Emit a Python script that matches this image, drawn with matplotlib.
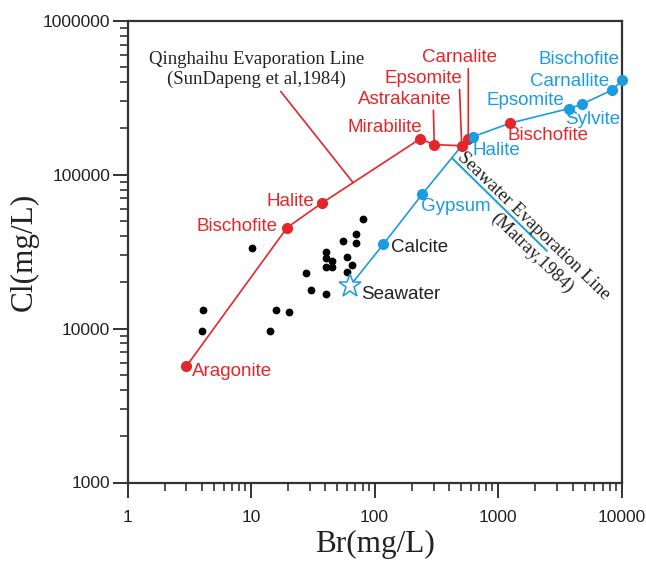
import numpy as np
import matplotlib
matplotlib.use("Agg")
import matplotlib.pyplot as plt

# ---------------- data ----------------
# Qinghaihu evaporation line (red)
red_names = ["Aragonite", "Bischofite", "Halite", "Mirabilite", "Astrakanite", "Epsomite", "Carnalite"]
red_br = [3.0, 19.6, 37.3, 233, 304, 507, 573]
red_cl = [5700, 45300, 65200, 170600, 156700, 154000, 170600]
# red Bischofite lying on the seawater line
red_bis_br = [1247]
red_bis_cl = [215900]

# Seawater evaporation line (blue)
sw_br = [63.2]          # seawater (star)
sw_cl = [18900]
blue_low_names = ["Calcite", "Gypsum"]
blue_low_br = [117.6, 243]
blue_low_cl = [35300, 74600]
blue_high_names = ["Halite", "Epsomite", "Sylvite", "Carnallite", "Bischofite"]
blue_high_br = [629, 3743, 4745, 8396, 10110]
blue_high_cl = [176600, 268700, 286500, 354800, 412000]

# samples (black dots)
samp_br = [80.1, 70.3, 55.8, 70.7, 10.1, 40.2, 40.2, 45.5, 60.1, 40.2, 45.2,
           66.0, 59.4, 27.7, 30.5, 40.2, 4.08, 16.0, 20.3, 4.03, 14.2]
samp_cl = [51800, 41200, 37100, 35800, 33200, 31600, 28900, 27600, 29100, 25200, 25200,
           25900, 23200, 23000, 17800, 16800, 13200, 13300, 12900, 9600, 9640]

x_ticks = [1, 10, 100, 1000, 10000]
y_ticks = [1000, 10000, 100000, 1000000]

# ---------------- style ----------------
RED = "#E3262B"
BLUE = "#1B9BE0"
AX = "#333333"
SANS = "Liberation Sans"
SERIF = "Liberation Serif"
PX = 0.72  # points per pixel at dpi 100

fig = plt.figure(figsize=(6.46, 5.62), dpi=100)
ax = fig.add_axes([127.5 / 646, 1 - 482.5 / 562, (621.7 - 127.5) / 646, (482.5 - 20.7) / 562])
ax.set_xscale("log")
ax.set_yscale("log")
ax.set_xlim(1, 10000)
ax.set_ylim(1000, 1000000)

# lines
blue_path_br = sw_br + blue_low_br + [red_br[5]] + [blue_high_br[0]] + red_bis_br + blue_high_br[1:]
blue_path_cl = sw_cl + blue_low_cl + [red_cl[5]] + [blue_high_cl[0]] + red_bis_cl + blue_high_cl[1:]
ax.plot(blue_path_br, blue_path_cl, color=BLUE, lw=1.2, zorder=2, clip_on=False)
ax.plot(red_br, red_cl, color=RED, lw=1.2, zorder=3)

# markers
ax.plot(samp_br, samp_cl, "o", color="black", ms=4.6, zorder=4)
ax.plot(red_br, red_cl, "o", color=RED, ms=7, zorder=5)
ax.plot(red_bis_br, red_bis_cl, "o", color=RED, ms=7, zorder=5)
ax.plot(blue_low_br, blue_low_cl, "o", color=BLUE, ms=7, zorder=6)
ax.plot(blue_high_br, blue_high_cl, "o", color=BLUE, ms=7, zorder=6, clip_on=False)
ax.plot(sw_br, sw_cl, "*", mfc="white", mec=BLUE, mew=1.1, ms=17, zorder=6)

FS = 13.5

def lab(text, x, y, dx, dy, color, ha="left", va="center", relpos=None, lc=None):
    kw = {}
    if relpos is not None:
        kw["arrowprops"] = dict(arrowstyle="-", color=lc or color, lw=1.2,
                                shrinkA=0, shrinkB=0, relpos=relpos)
    ax.annotate(text, xy=(x, y), xytext=(dx * PX, dy * PX), textcoords="offset points",
                ha=ha, va=va, color=color, fontsize=FS, family=SANS, zorder=7,
                annotation_clip=False, **kw)

# red labels
lab("Aragonite", red_br[0], red_cl[0], 6, -5, RED)
lab("Bischofite", red_br[1], red_cl[1], -10, 1.5, RED, ha="right")
lab("Halite", red_br[2], red_cl[2], -7, 1.5, RED, ha="right")
lab("Mirabilite", red_br[3], red_cl[3], 2, 11, RED, ha="right")
lab("Astrakanite", red_br[4], red_cl[4], -29, 37, RED, ha="center", va="bottom", relpos=(0.8, 0))
lab("Epsomite", red_br[5], red_cl[5], -38, 59, RED, ha="center", va="bottom", relpos=(0.96, 0))
lab("Carnalite", red_br[6], red_cl[6], -9, 73, RED, ha="center", va="bottom", relpos=(0.62, 0))
lab("Bischofite", red_bis_br[0], red_bis_cl[0], -2, -12, RED)

# blue labels
lab("Calcite", blue_low_br[0], blue_low_cl[0], 7.5, -3.5, "#222222")
lab("Gypsum", blue_low_br[1], blue_low_cl[1], -1.5, -12.5, BLUE)
lab("Halite", blue_high_br[0], blue_high_cl[0], -0.5, -13.5, BLUE)
lab("Epsomite", blue_high_br[1], blue_high_cl[1], -5, 8, BLUE, ha="right")
lab("Sylvite", blue_high_br[2], blue_high_cl[2], -17, -15, BLUE)
lab("Carnallite", blue_high_br[3], blue_high_cl[3], -3.5, 8.5, BLUE, ha="right")
lab("Bischofite", blue_high_br[4], blue_high_cl[4], -2.5, 20.5, BLUE, ha="right")
lab("Seawater", sw_br[0], sw_cl[0], 11, -8.5, "#222222")

# Qinghaihu evaporation line caption with leader
t = 0.32
q_x = 10 ** (np.log10(red_br[2]) + t * (np.log10(red_br[3]) - np.log10(red_br[2])))
q_y = 10 ** (np.log10(red_cl[2]) + t * (np.log10(red_cl[3]) - np.log10(red_cl[2])))
ax.annotate("Qinghaihu Evaporation Line\n(SunDapeng et al,1984)", xy=(q_x, q_y),
            xytext=(-97 * PX, 95 * PX), textcoords="offset points",
            ha="center", va="bottom", multialignment="center", fontsize=13.5, family=SERIF,
            color="#222222", linespacing=1.2,
            arrowprops=dict(arrowstyle="-", color=RED, lw=1.2, shrinkA=1, shrinkB=0, relpos=(0.6, 0)))

# Seawater evaporation line caption with leader
t2 = 0.75
s_x = 10 ** (np.log10(blue_low_br[1]) + t2 * (np.log10(red_br[5]) - np.log10(blue_low_br[1])))
s_y = 10 ** (np.log10(blue_low_cl[1]) + t2 * (np.log10(red_cl[5]) - np.log10(blue_low_cl[1])))
ax.annotate("", xy=(s_x, s_y), xytext=(95 * PX, -93 * PX), textcoords="offset points",
            arrowprops=dict(arrowstyle="-", color=BLUE, lw=1.4, shrinkA=0, shrinkB=0))
ax.annotate("Seawater Evaporation Line", xy=(s_x, s_y), xytext=(82 * PX, -68 * PX),
            textcoords="offset points", ha="center", va="center", rotation=-44,
            rotation_mode="anchor", fontsize=13.5, family=SERIF, color="#222222")
ax.annotate("(Matray,1984)", xy=(s_x, s_y), xytext=(80 * PX, -95 * PX),
            textcoords="offset points", ha="center", va="center", rotation=-44,
            rotation_mode="anchor", fontsize=13.5, family=SERIF, color="#222222")

# axes styling
for sp in ax.spines.values():
    sp.set_color(AX)
    sp.set_linewidth(1.6)
ax.set_xticks(x_ticks)
ax.set_xticklabels([str(v) for v in x_ticks])
ax.set_yticks(y_ticks)
ax.set_yticklabels([str(v) for v in y_ticks])
ax.tick_params(which="major", direction="out", length=10.5, width=1.4, color=AX,
               labelsize=12.5, labelcolor="#222222")
ax.tick_params(axis="x", which="major", pad=9.5)
ax.tick_params(axis="y", which="major", pad=2)
ax.tick_params(which="minor", direction="out", length=5.5, width=1.2, color=AX)
ax.xaxis.set_minor_formatter(matplotlib.ticker.NullFormatter())
ax.yaxis.set_minor_formatter(matplotlib.ticker.NullFormatter())
for lbl in ax.get_xticklabels() + ax.get_yticklabels():
    lbl.set_family(SANS)

ax.set_xlabel("Br(mg/L)", fontsize=22.5, family=SERIF, color="#222222", labelpad=3)
ax.set_ylabel("Cl(mg/L)", fontsize=22.5, family=SERIF, color="#222222", labelpad=3)

fig.savefig("out.png", dpi=100)
